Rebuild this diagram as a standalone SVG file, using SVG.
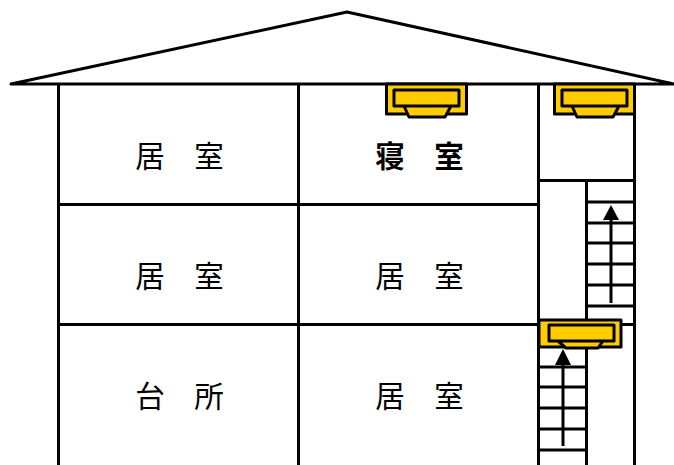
<svg xmlns="http://www.w3.org/2000/svg" width="674" height="465" viewBox="0 0 674 465">
<style>
.l{fill:none;stroke:#000;stroke-width:3;stroke-linecap:round;stroke-linejoin:round}
.t{stroke:#000;stroke-width:3;fill:none}
.y{fill:#ffcc00;stroke:#000;stroke-width:3;stroke-linejoin:round}
.a{fill:#000;stroke:none}
text{font-family:"Noto Sans CJK JP","Noto Sans CJK SC",sans-serif;font-size:29.5px;fill:#000;text-anchor:middle}
</style>
<rect width="674" height="465" fill="#fff"/>
<g id="structure">
<path class="l" d="M11 84L347 12L674 84Z"/>
<path class="t" d="M58.500 84V465M298.500 84V465M538.500 84V465M634.500 84V465M586.500 180V465M58 204.500H538M58 324.500H538M538 180.500H634M586 324.500H634"/>
</g>
<g id="stairs">
<path class="t" d="M586 202H634M586 223H634M586 243H634M586 264H634M586 285H634M586 306H634"/>
<path class="t" d="M538 367H586M538 387H586M538 408H586M538 429H586M538 450H586"/>
</g>
<g id="w1"><rect class="y" x="386.500" y="84" width="80" height="30"/><path class="y" d="M404 106L409 117H445L451 106"/><rect class="y" x="394" y="90" width="65" height="16"/></g>
<g id="w2"><rect class="y" x="554.500" y="84" width="80" height="30"/><path class="y" d="M572 106L577 117H613L619 106"/><rect class="y" x="562" y="90" width="65" height="16"/></g>
<g id="w3"><rect class="y" x="539" y="320" width="82" height="27"/><path class="y" d="M558 341L566 348H598L603 341"/><rect class="y" x="549" y="325" width="65" height="16"/></g>
<g id="connectors">
<path class="t" d="M611 303V218"/><path class="a" d="M611 205L619 220H603Z"/>
<path class="t" d="M563 446V362"/><path class="a" d="M563 349L571 365H555Z"/>
</g>
<g id="r1"><text x="179.500" y="167">居　室</text></g>
<g id="r2"><text x="419.500" y="167" style="font-weight:700">寝　室</text></g>
<g id="r3"><text x="179.500" y="287">居　室</text></g>
<g id="r4"><text x="419.500" y="287">居　室</text></g>
<g id="r5"><text x="179.500" y="407">台　所</text></g>
<g id="r6"><text x="419.500" y="407">居　室</text></g>
</svg>
